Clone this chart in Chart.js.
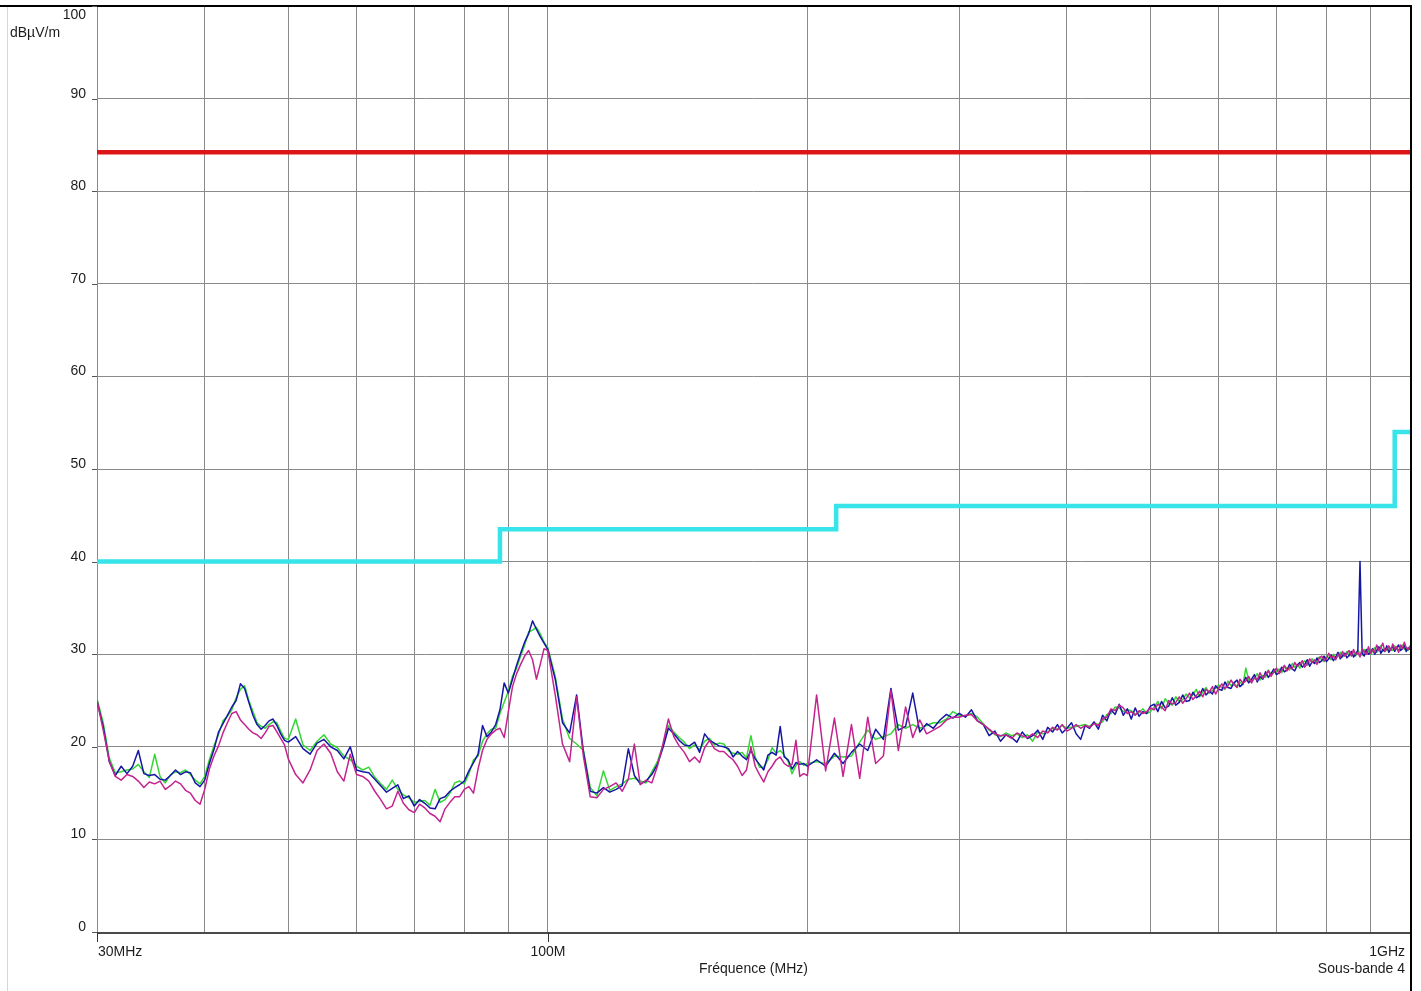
<!DOCTYPE html>
<html lang="fr">
<head>
<meta charset="utf-8">
<title>Champ rayonné 30 MHz – 1 GHz</title>
<script src="https://cdn.jsdelivr.net/npm/chart.js@4.4.1/dist/chart.umd.min.js"></script>
<style>
  html, body { margin: 0; padding: 0; background: #fff; }
  canvas { display: block; }
</style>
</head>
<body>
<canvas id="emi" width="1421" height="991"></canvas>
<script>
'use strict';

/* ── Sweep data: frequency (MHz) and level (dBµV/m) ────────── */
const FREQ_MHZ = [
  30, 30.5, 31, 31.5, 32, 32.5, 33, 33.5, 34, 34.5,
  35, 35.5, 36, 36.5, 37, 37.5, 38, 38.5, 39, 39.5,
  40, 40.5, 41, 41.5, 42, 42.5, 43, 43.5, 44, 44.5,
  45, 45.5, 46, 46.5, 47, 47.5, 48, 48.5, 49, 49.5,
  50,
  51, 52, 53, 54, 55, 56, 57, 58, 59, 60,
  61, 62, 63, 64, 65, 66, 67, 68, 69, 70,
  71, 72, 73, 74, 75, 76, 77, 78, 79, 80,
  81, 82, 83, 84, 85, 86, 87, 88, 89, 90,
  91, 92, 93, 94, 95, 96, 97, 98, 99, 100,
  102, 104, 106, 108, 110, 112, 114, 116, 118, 120,
  122, 124, 126, 128, 130, 132, 134, 136, 138, 140,
  142, 144, 146, 148, 150, 152, 154, 156, 158, 160,
  162, 164, 166, 168, 170, 172, 174, 176, 178, 180,
  182, 184, 186, 188, 190, 192, 194, 196, 198, 200,
  205, 210, 215, 220, 225, 230, 235, 240, 245, 250,
  255, 260, 265, 270, 275, 280, 285, 290, 295, 300,
  305, 310, 315, 320, 325, 330, 335, 340, 345, 350,
  355, 360, 365, 370, 375, 380, 385, 390, 395, 400,
  405, 410, 415, 420, 425, 430, 435, 440, 445, 450,
  455, 460, 465, 470, 475, 480, 485, 490, 495, 500,
  505, 510, 515, 520, 525, 530, 535, 540, 545, 550,
  555, 560, 565, 570, 575, 580, 585, 590, 595, 600,
  605, 610, 615, 620, 625, 630, 635, 640, 645, 650,
  655, 660, 665, 670, 675, 680, 685, 690, 695, 700,
  705, 710, 715, 720, 725, 730, 735, 740, 745, 750,
  755, 760, 765, 770, 775, 780, 785, 790, 795, 800,
  805, 810, 815, 820, 825, 830, 835, 840, 845, 850,
  855, 860, 865, 870, 875, 880, 885, 890, 895, 900,
  905, 910, 915, 920, 925, 930, 935, 940, 945, 950,
  955, 960, 965, 970, 975, 980, 985, 990, 995, 1000
];

const TRACE_GREEN = [
  25.2, 22.6, 18.8, 17.2, 17.3, 17.5, 17.6, 18.1, 17.3, 16.7,
  19.2, 16.8, 16.1, 17.0, 17.3, 17.2, 17.5, 17.0, 16.4, 16.0,
  16.8, 18.6, 20.1, 21.3, 22.8, 23.3, 24.0, 25.3, 26.2, 26.6,
  25.0, 23.8, 22.6, 22.2, 22.0, 22.4, 22.7, 22.6, 21.7, 20.9,
  20.8,
  23.0, 20.2, 19.6, 20.6, 21.3, 20.3, 19.9, 19.0, 18.6, 17.9,
  17.5, 17.8, 16.7, 16.0, 15.4, 16.4, 15.4, 14.8, 14.5, 14.0,
  14.1, 14.2, 13.7, 15.4, 14.0, 14.3, 15.0, 16.1, 16.3, 16.0,
  17.1, 18.6, 19.0, 20.6, 21.4, 21.9, 22.0, 23.6, 24.8, 26.0,
  27.6, 28.5, 29.8, 31.0, 32.4, 32.6, 32.9, 32.2, 31.3, 30.7,
  27.6, 23.0, 20.9, 20.3, 19.6, 15.6, 14.7, 17.4, 15.3, 15.7,
  16.0, 16.5, 16.6, 16.3, 16.1, 17.3, 18.4, 20.2, 22.3, 21.6,
  21.0, 20.5, 19.8, 20.2, 19.7, 20.6, 20.9, 20.2, 20.4, 20.3,
  19.6, 19.3, 19.2, 19.4, 18.8, 21.2, 18.9, 17.8, 17.8, 18.6,
  19.9, 19.3, 19.6, 19.1, 18.4, 17.1, 18.0, 18.4, 18.0, 18.2,
  18.4, 18.2, 19.0, 18.9, 19.0, 20.5, 21.8, 20.8, 21.1, 21.4,
  22.4, 22.0, 22.4, 22.0, 22.3, 22.6, 22.6, 23.0, 23.8, 23.4,
  23.3, 23.6, 23.2, 22.5, 21.8, 21.3, 21.1, 21.5, 21.2, 21.4,
  21.0, 21.3, 20.6, 21.6, 21.4, 21.6, 22.0, 21.9, 22.3, 22.0,
  22.1, 22.2, 22.3, 22.4, 22.2, 22.6, 22.4, 22.7, 23.5, 23.6,
  24.3, 24.2, 23.8, 24.0, 23.9, 23.5, 23.7, 24.1, 23.6, 23.8,
  24.3, 24.9, 24.1, 25.2, 24.7, 24.5, 25.4, 24.9, 25.1, 25.7,
  25.3, 25.6, 26.2, 25.4, 25.9, 26.4, 25.8, 26.1, 26.3, 26.7,
  26.4, 26.2, 27.1, 26.6, 26.9, 26.5, 27.0, 26.7, 28.5, 27.2,
  27.0, 27.4, 27.9, 27.2, 27.7, 27.5, 28.3, 27.8, 28.0, 28.2,
  28.4, 28.0, 28.7, 28.5, 28.3, 29.0, 28.6, 28.9, 28.5, 29.1,
  29.3, 28.8, 29.2, 29.5, 29.0, 29.3, 29.7, 29.4, 29.2, 29.8,
  29.6, 29.4, 30.0, 29.5, 29.8, 30.2, 29.7, 29.9, 30.3, 29.8,
  30.0, 30.2, 29.8, 30.4, 30.1, 29.9, 30.5, 30.2, 30.4, 30.0,
  30.3, 30.7, 30.2, 30.5, 30.9, 30.3, 30.6, 30.4, 30.8, 30.5,
  30.4, 30.9, 30.6, 30.3, 30.8, 31.0, 30.5, 30.7, 30.4, 30.8
];

const TRACE_BLUE = [
  24.9, 22.2, 18.4, 16.9, 17.9, 17.1, 17.9, 19.6, 17.1, 16.9,
  17.0, 16.5, 16.4, 16.9, 17.5, 17.0, 17.3, 17.2, 16.1, 15.7,
  16.4, 18.2, 19.7, 21.6, 22.5, 23.4, 24.3, 25.0, 26.8, 26.3,
  24.8, 23.4, 22.4, 21.9, 22.3, 22.8, 23.0, 22.3, 21.4, 20.7,
  20.5,
  21.1, 19.8, 19.2, 20.4, 20.8, 20.0, 19.6, 18.7, 20.0, 17.5,
  17.3, 17.2, 16.5, 15.8, 15.1, 15.5, 15.9, 14.4, 14.7, 13.6,
  14.3, 13.9, 13.4, 13.3, 14.4, 14.6, 15.2, 15.6, 15.9, 16.3,
  17.4, 18.3, 19.2, 22.3, 21.1, 21.6, 22.4, 24.0, 26.9, 25.8,
  27.3, 28.8, 30.1, 31.3, 32.2, 33.6, 32.7, 31.9, 31.2, 30.5,
  27.3, 22.6, 21.5, 25.6, 19.4, 15.2, 15.0, 15.6, 15.1, 15.4,
  15.8, 19.8, 16.9, 16.0, 16.3, 17.0, 18.1, 19.9, 22.0, 21.4,
  20.7, 20.2, 20.1, 20.5, 19.4, 21.4, 20.7, 20.4, 20.1, 20.0,
  19.8, 18.9, 19.5, 19.0, 18.6, 19.6, 18.7, 18.1, 17.5, 19.1,
  19.4, 19.1, 22.2, 18.9, 18.6, 17.6, 18.3, 18.1, 18.2, 17.9,
  18.6, 17.9, 19.3, 18.2, 19.4, 20.3, 19.6, 21.9, 20.8, 26.3,
  21.8, 22.2, 25.8, 21.6, 22.5, 22.0, 22.9, 23.5, 23.1, 23.6,
  23.2, 24.0, 22.8, 22.4, 21.2, 21.7, 20.6, 21.3, 21.0, 20.5,
  21.6, 20.9, 21.2, 21.8, 20.8, 22.1, 21.6, 22.4, 21.5, 22.0,
  22.6, 21.4, 20.8, 22.3, 22.0, 22.7, 21.9, 23.4, 22.8, 24.0,
  23.5, 24.6, 23.4, 24.1, 23.0, 24.2, 23.3, 23.8, 23.6, 24.4,
  24.6, 23.8, 24.9, 24.2, 24.4, 25.3, 24.5, 24.8, 25.6, 24.9,
  25.0, 25.9, 25.3, 25.5, 26.3, 25.6, 26.0, 25.7, 26.6, 26.2,
  26.1, 27.0, 26.4, 26.3, 26.9, 27.2, 26.5, 26.8, 27.5, 26.9,
  27.3, 27.8, 27.0, 27.6, 27.3, 28.1, 27.5, 27.9, 28.4, 27.8,
  28.0, 28.6, 28.1, 28.3, 28.9, 28.4, 28.2, 28.8, 29.1, 28.6,
  28.9, 29.4, 28.7, 29.2, 29.0, 29.6, 29.1, 29.3, 29.8, 29.2,
  29.5, 29.9, 29.3, 29.7, 30.2, 29.5, 29.8, 30.1, 29.6, 29.9,
  30.3, 29.7, 30.0, 30.4, 40.0, 30.1, 29.8, 30.5, 30.0, 30.2,
  30.6, 30.0, 30.4, 30.8, 30.1, 30.5, 30.3, 30.9, 30.2, 30.6,
  30.8, 30.3, 30.7, 31.0, 30.4, 30.6, 30.9, 30.3, 30.7, 30.5
];

const TRACE_MAGENTA = [
  25.0, 21.8, 18.5, 16.8, 16.4, 17.0, 16.8, 16.3, 15.6, 16.2,
  16.0, 16.3, 15.4, 15.8, 16.3, 16.0, 15.3, 15.0, 14.2, 13.8,
  15.4, 17.6, 19.0, 20.1, 21.5, 22.6, 23.6, 23.8, 22.9, 22.4,
  21.9, 21.5, 21.3, 20.9, 21.5, 22.2, 22.3, 21.6, 20.9, 20.2,
  18.7,
  17.0, 16.1, 17.5, 19.6, 20.3, 19.3, 17.3, 16.3, 19.2, 17.0,
  16.8, 16.3, 15.2, 14.3, 13.3, 13.6, 15.2, 13.9, 13.2, 12.9,
  13.8, 13.4, 12.8, 12.5, 11.9, 13.3, 14.0, 14.6, 14.6, 15.4,
  15.7, 15.0, 17.6, 19.6, 20.8, 21.4, 21.8, 22.0, 21.0, 23.8,
  26.5, 27.9, 28.9, 29.8, 30.4, 29.4, 27.3, 28.9, 30.6, 30.4,
  25.6, 20.3, 18.4, 25.4, 18.9, 14.6, 14.5, 15.4, 15.7, 16.1,
  15.2, 16.5, 20.3, 15.9, 16.4, 16.1, 17.9, 20.3, 23.0, 21.1,
  20.1, 19.4, 18.4, 18.9, 18.3, 19.9, 20.7, 19.8, 19.5, 19.5,
  19.0, 18.6, 17.9, 16.9, 17.5, 20.0, 17.9, 17.0, 16.2, 17.3,
  17.9, 18.6, 18.9, 18.2, 17.9, 18.1, 20.7, 16.8, 17.1, 16.9,
  25.6, 17.4, 23.1, 16.8, 22.4, 16.6, 23.2, 18.2, 19.0, 26.1,
  19.6, 24.3, 21.0, 22.9, 21.4, 21.8, 22.2, 22.9, 23.2, 23.2,
  23.4, 23.5, 22.8, 22.4, 21.9, 21.4, 21.2, 21.3, 20.9, 21.5,
  21.2, 21.0, 21.4, 21.0, 21.7, 21.5, 22.1, 21.8, 22.4, 21.7,
  22.0, 22.4, 22.0, 22.3, 22.1, 22.5, 22.3, 23.0, 23.2, 24.1,
  23.9, 24.5, 24.2, 23.6, 23.8, 23.4, 23.9, 23.6, 23.8, 24.2,
  24.0, 24.6, 24.3, 23.9, 25.0, 24.6, 24.8, 25.4, 24.7, 25.2,
  25.8, 25.1, 25.5, 26.0, 25.4, 26.2, 25.9, 26.5, 25.7, 26.3,
  26.8, 26.3, 26.6, 27.2, 26.7, 26.4, 27.3, 26.9, 27.1, 27.6,
  26.9, 27.5, 27.2, 28.0, 27.4, 27.8, 28.2, 27.6, 28.1, 28.5,
  27.9, 28.3, 28.8, 28.2, 28.6, 28.4, 29.1, 28.7, 28.9, 29.3,
  28.6, 29.0, 29.5, 29.1, 29.4, 28.9, 29.6, 29.8, 29.3, 29.5,
  30.1, 29.6, 29.8, 29.4, 30.0, 29.7, 30.3, 29.8, 30.1, 30.4,
  29.8, 30.5, 30.0, 30.2, 29.7, 30.6, 30.3, 30.0, 30.8, 30.1,
  30.5, 30.2, 31.0, 30.4, 30.7, 31.2, 30.3, 30.6, 30.9, 30.4,
  31.1, 30.5, 30.8, 30.2, 31.0, 30.6, 31.3, 30.7, 30.5, 30.9
];

/* ── Limits ─────────────────────────────────────────────────── */
// stepped class limit: band edges and the level that starts at each edge
const LIMIT_EDGES_MHZ = [30, 88, 216, 960, 1000];
const LIMIT_DB        = [40, 43.5, 46, 54];

// upper reference level
const REF_EDGES_MHZ = [30, 1000];
const REF_DB        = [84.2, 84.2];

/* ── Axes ───────────────────────────────────────────────────── */
const GRID_MHZ     = [30, 40, 50, 60, 70, 80, 90, 100, 200, 300, 400, 500, 600, 700, 800, 900, 1000];
const Y_TICKS      = [0, 10, 20, 30, 40, 50, 60, 70, 80, 90, 100];
const X_LABEL_MHZ  = [30, 100, 1000];
const X_LABEL_TEXT = ['30MHz', '100M', '1GHz'];
const Y_UNIT       = 'dBµV/m';
const X_TITLE      = 'Fréquence (MHz)';
const BAND_NAME    = 'Sous-bande 4';

const toPoints = (xs, ys) => xs.map((f, i) => ({ x: f, y: ys[i] }));

const limitPoints = LIMIT_EDGES_MHZ.map((f, i) => ({
  x: f,
  y: LIMIT_DB[Math.min(i, LIMIT_DB.length - 1)]
}));

const FONT = '14px "Liberation Sans", Arial, sans-serif';

/* ── Frame, axis text and tick marks ───────────────────────── */
const axisDecor = {
  id: 'axisDecor',
  afterDraw(chart) {
    const { ctx, chartArea: area } = chart;
    const xs = chart.scales.x;
    const ys = chart.scales.y;
    const last = X_LABEL_MHZ.length - 1;

    ctx.save();

    // faint window edge on the left
    ctx.strokeStyle = '#d6d6d6';
    ctx.lineWidth = 1;
    ctx.beginPath();
    ctx.moveTo(7.5, area.top);
    ctx.lineTo(7.5, chart.height);
    ctx.stroke();

    // top and right frame
    ctx.strokeStyle = '#000';
    ctx.lineWidth = 2;
    ctx.beginPath();
    ctx.moveTo(0, area.top);
    ctx.lineTo(area.right + 1, area.top);
    ctx.lineTo(area.right + 1, chart.height);
    ctx.stroke();

    // x axis base line
    ctx.strokeStyle = '#4a4a4a';
    ctx.beginPath();
    ctx.moveTo(area.left, area.bottom + 1);
    ctx.lineTo(area.right, area.bottom + 1);
    ctx.stroke();

    ctx.font = FONT;
    ctx.fillStyle = '#1c1c1c';
    ctx.textBaseline = 'alphabetic';

    // y tick labels sit just above their line, except the top one
    ctx.textAlign = 'right';
    ctx.strokeStyle = '#555';
    ctx.lineWidth = 1;
    for (const v of Y_TICKS) {
      const py = Math.round(ys.getPixelForValue(v));
      ctx.fillText(String(v), 86, v === 100 ? py + 13 : py - 1);
      ctx.beginPath();
      ctx.moveTo(92, py + 0.5);
      ctx.lineTo(area.left, py + 0.5);
      ctx.stroke();
    }
    ctx.textAlign = 'left';
    ctx.fillText(Y_UNIT, 10, 37);

    // x labels and the short ticks below the axis
    ctx.strokeStyle = '#333';
    X_LABEL_MHZ.forEach((f, i) => {
      const px = Math.round(xs.getPixelForValue(f));
      if (i === 0) {
        ctx.textAlign = 'left';
        ctx.fillText(X_LABEL_TEXT[i], px + 1, 956);
      } else if (i === last) {
        ctx.textAlign = 'right';
        ctx.fillText(X_LABEL_TEXT[i], px - 5, 956);
      } else {
        ctx.textAlign = 'center';
        ctx.fillText(X_LABEL_TEXT[i], px, 956);
      }
      if (i !== last) {
        ctx.beginPath();
        ctx.moveTo(px + 0.5, area.bottom);
        ctx.lineTo(px + 0.5, area.bottom + 10);
        ctx.stroke();
      }
    });

    ctx.textAlign = 'center';
    ctx.fillText(X_TITLE, (area.left + area.right) / 2, 973);
    ctx.textAlign = 'right';
    ctx.fillText(BAND_NAME, area.right - 5, 973);

    ctx.restore();
  }
};

/* ── Chart ──────────────────────────────────────────────────── */
const traceStyle = (color, order) => ({
  borderColor: color,
  borderWidth: 1.5,
  borderJoinStyle: 'round',
  pointRadius: 0,
  tension: 0,
  fill: false,
  order
});

new Chart(document.getElementById('emi'), {
  type: 'line',
  data: {
    datasets: [
      {
        label: 'Référence',
        data: toPoints(REF_EDGES_MHZ, REF_DB),
        borderColor: '#dc1616',
        borderWidth: 4.5,
        pointRadius: 0,
        order: 1
      },
      {
        label: 'Limite',
        data: limitPoints,
        stepped: true,
        borderColor: '#36e4ea',
        borderWidth: 4.5,
        pointRadius: 0,
        order: 2
      },
      { label: 'Trace 3', data: toPoints(FREQ_MHZ, TRACE_MAGENTA), ...traceStyle('#c4238f', 3) },
      { label: 'Trace 2', data: toPoints(FREQ_MHZ, TRACE_BLUE),    ...traceStyle('#1616a6', 4) },
      { label: 'Trace 1', data: toPoints(FREQ_MHZ, TRACE_GREEN),   ...traceStyle('#33d633', 5) }
    ]
  },
  options: {
    responsive: false,
    animation: false,
    devicePixelRatio: 1,
    layout: { padding: { top: 6, right: 11, left: 0, bottom: 0 } },
    plugins: {
      legend: { display: false },
      tooltip: { enabled: false }
    },
    scales: {
      x: {
        type: 'logarithmic',
        min: 30,
        max: 1000,
        afterBuildTicks: s => { s.ticks = GRID_MHZ.map(v => ({ value: v })); },
        afterFit: s => { s.height = 59; },
        ticks: { display: false },
        grid: { color: '#8a8a8a', lineWidth: 1, drawTicks: false },
        border: { display: false }
      },
      y: {
        type: 'linear',
        min: 0,
        max: 100,
        afterBuildTicks: s => { s.ticks = Y_TICKS.map(v => ({ value: v })); },
        afterFit: s => { s.width = 97; },
        ticks: { display: false },
        grid: { color: '#8a8a8a', lineWidth: 1, drawTicks: false },
        border: { display: false }
      }
    }
  },
  plugins: [axisDecor]
});
</script>
</body>
</html>
